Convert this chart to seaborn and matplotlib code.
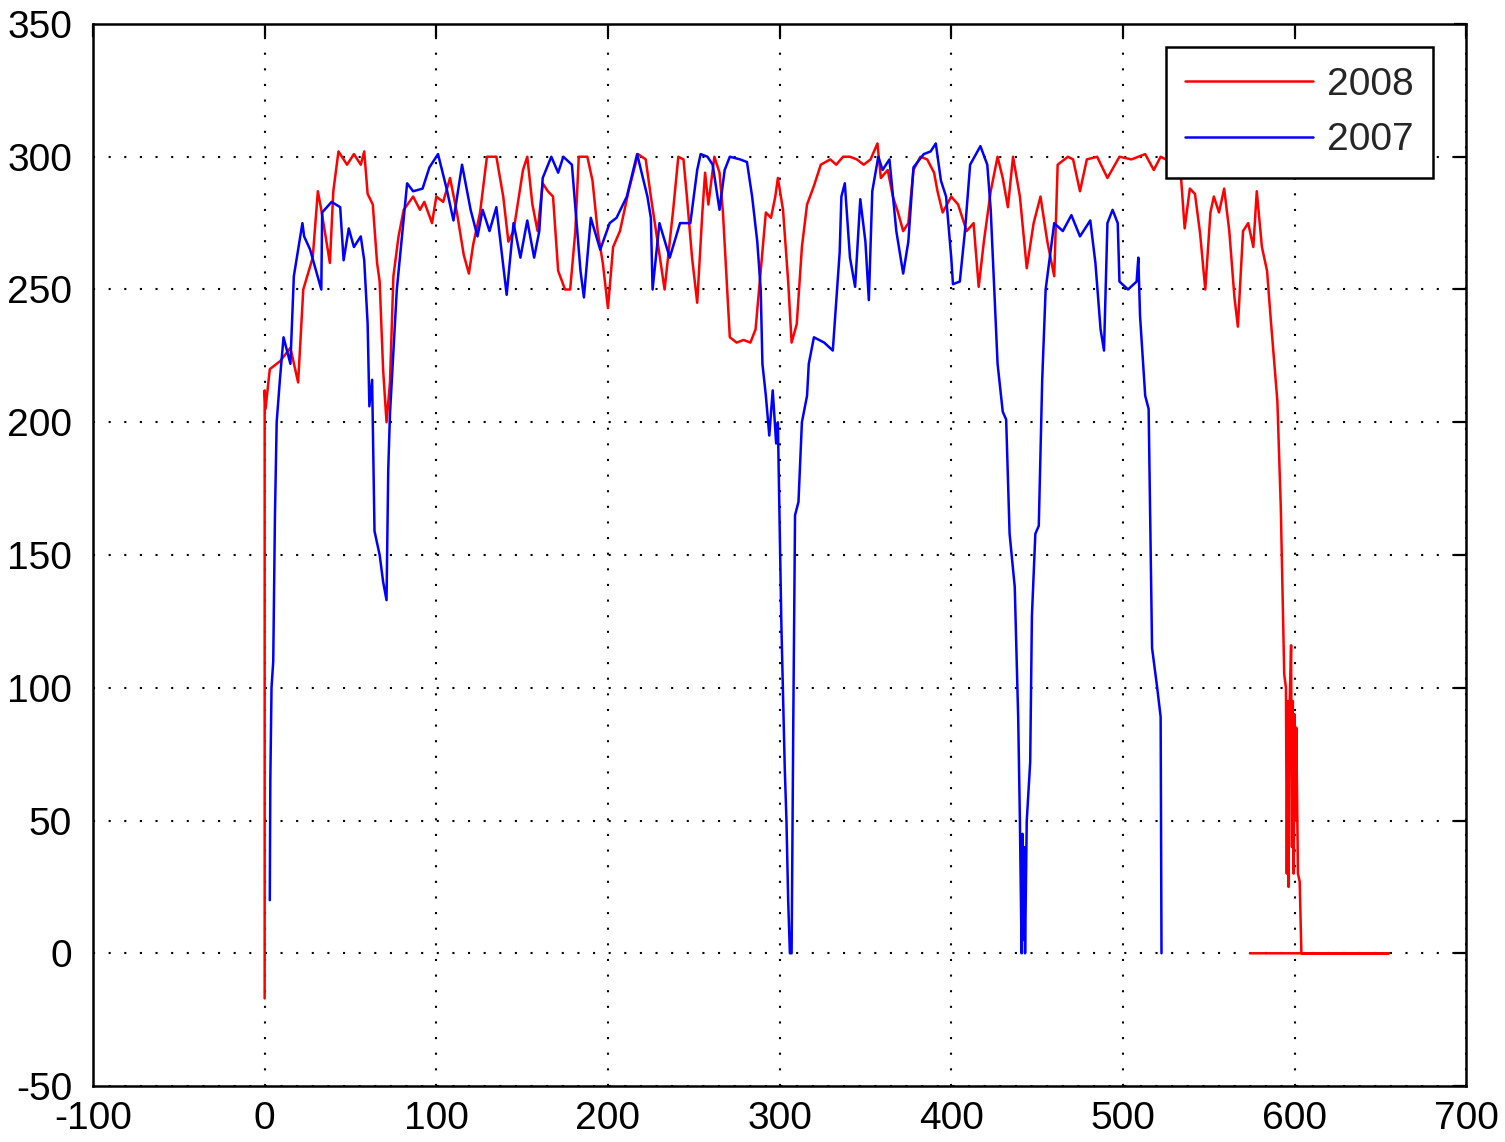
import matplotlib
matplotlib.use("Agg")
import matplotlib.pyplot as plt
import pandas as pd
import seaborn as sns
import numpy as np

# ------------------------------------------------------
# Data
# ------------------------------------------------------

x_2008 = [
    0, 0, 0.5, 3, 9, 15, 19.5, 22.5, 28, 31,
    33, 38, 40, 43, 48, 52, 56, 58, 60, 63,
    65.5, 67, 69, 71, 73, 75, 78, 81, 86.5, 90.5,
    93, 97.5, 100, 104, 108, 112, 116, 119, 121.5, 125.5,
    129.5, 135, 139, 142, 145, 150.5, 153, 156, 159, 162,
    165, 168, 171, 175, 178, 181, 183, 188, 191, 194,
    197, 200, 203, 207, 212, 217.5, 222, 225, 228, 233,
    238, 241, 244, 246, 249, 252, 255, 256.6, 258.5, 262,
    265, 267, 271, 275, 279, 283, 286, 289, 292, 295,
    297.5, 299, 302, 305, 307, 310, 313, 316, 320, 324,
    329.5, 333, 337, 341, 345, 349, 353, 357, 359, 363,
    366, 369, 372, 375, 378, 382, 386, 390, 392, 395,
    400, 404, 409, 413, 416, 419, 423, 427, 430, 433,
    436, 440, 444, 448, 452, 456, 460, 462, 468, 471,
    475, 479, 485, 491, 498, 505, 513, 518, 522, 528,
    533, 536, 539, 542, 545, 548, 551, 553, 556, 559,
    562, 565, 567, 570, 573, 576, 578, 581, 584, 586,
    588, 590, 592, 594, 595, 595.5, 596, 596.5, 597, 598,
    598.5, 599, 599.5, 600, 600.5, 601, 602, 603, 604, 655,
    574,
]
y_2008 = [
    -17, 212, 205, 220, 223, 228, 215, 250, 262, 287,
    280, 260, 287, 302, 297, 301, 297, 302, 286, 282,
    260, 253, 220, 200, 215, 255, 270, 280, 285, 280,
    283, 275, 285, 283, 292, 279, 263, 256, 267, 279,
    300, 300, 285, 268, 272, 295, 300, 282, 272, 290,
    287, 285, 257, 250, 250, 272, 300, 300, 291, 272,
    260, 243, 266, 272, 287, 301, 299, 285, 272, 250,
    280, 300, 299, 285, 262, 245, 279, 294, 282, 300,
    294, 279, 232, 230, 231, 230, 235, 257, 279, 277,
    285, 292, 280, 253, 230, 237, 266, 282, 289, 297,
    299, 297, 300, 300, 299, 297, 299, 305, 292, 295,
    285, 279, 272, 275, 295, 300, 299, 294, 287, 279,
    285, 282, 272, 275, 251, 268, 287, 300, 292, 281,
    300, 285, 258, 275, 285, 268, 255, 297, 300, 299,
    287, 299, 300, 292, 300, 299, 301, 295, 300, 298,
    300, 273, 288, 286, 271, 250, 279, 285, 279, 288,
    272, 247, 236, 272, 275, 266, 287, 266, 257, 240,
    224, 208, 168, 105, 100, 30, 95, 25, 90, 116,
    40, 95, 30, 90, 50, 85, 30, 27, 0, 0,
    0,
]

x_2007 = [
    3, 3.3, 4, 5, 6, 7, 9, 11, 15, 17,
    22, 23, 26.5, 33, 33.5, 39, 44, 46, 49, 52,
    56, 58, 60, 61, 62.6, 64, 67, 69, 71, 72,
    73, 77, 83, 86.5, 92, 96, 101, 106, 110, 115,
    120, 124, 127, 131, 135, 141, 145, 149, 153, 157,
    160, 162, 167, 171, 174, 179, 184, 186, 190, 195.5,
    201, 205, 211, 217, 223, 225, 226, 230, 236, 242,
    248, 252, 254, 258, 261, 265, 268, 271, 277, 281,
    284, 287, 289, 290, 292, 294, 296, 298, 299, 301,
    303, 304, 305, 306, 307, 308, 309, 311, 313, 316,
    317, 320, 326, 331, 335, 336, 338, 341, 344, 347,
    350, 352, 354, 357.5, 360, 364, 368, 372, 375, 378,
    384, 388, 391, 394, 397, 400, 401, 405, 408, 411,
    417, 421, 423, 425, 427, 430, 432, 434, 437, 439,
    440, 441, 441.5, 442, 442.5, 443, 444, 446, 447, 449,
    451, 453, 455, 458, 460, 465, 470, 475, 481, 484,
    487, 489, 491, 494, 497, 498, 503, 508, 509, 510,
    513, 515, 517, 520, 522, 522.5,
]
y_2007 = [
    20, 65, 100, 110, 165, 200, 217, 232, 222, 255,
    275, 270, 265, 250, 279, 283, 281, 261, 273, 266,
    270, 261, 237, 206, 216, 159, 150, 140, 133, 182,
    203, 250, 290, 287, 288, 296, 301, 288, 276, 297,
    280, 270, 280, 272, 281, 248, 275, 262, 276, 262,
    272, 292, 300, 294, 300, 297, 257, 247, 277, 265,
    275, 277, 285, 301, 285, 277, 250, 275, 262, 275,
    275, 295, 301, 300, 297, 280, 295, 300, 299, 298,
    285, 268, 250, 222, 210, 195, 212, 192, 200, 125,
    70, 50, 20, 0, 0, 89, 165, 170, 200, 210,
    222, 232, 230, 227, 264, 285, 290, 262, 251, 284,
    268, 246, 287, 300, 295, 299, 272, 256, 268, 296,
    301, 302, 305, 291, 285, 262, 252, 253, 272, 297,
    304, 297, 280, 251, 222, 204, 201, 158, 138, 89,
    50, 0, 45, 5, 40, 0, 50, 72, 127, 158,
    161, 216, 250, 265, 275, 272, 278, 270, 276, 260,
    235, 227, 275, 280, 275, 253, 250, 253, 262, 240,
    210, 205, 115, 100, 89, 0,
]

years = ["2008", "2007"]
colors = {"2008": "#ff0000", "2007": "#0000ff"}

x_ticks = [-100, 0, 100, 200, 300, 400, 500, 600, 700]
y_ticks = [-50, 0, 50, 100, 150, 200, 250, 300, 350]

assert len(x_2008) == len(y_2008)
assert len(x_2007) == len(y_2007)

df = pd.concat(
    [
        pd.DataFrame({"x": x_2008, "y": y_2008, "year": "2008"}),
        pd.DataFrame({"x": x_2007, "y": y_2007, "year": "2007"}),
    ],
    ignore_index=True,
)

# ------------------------------------------------------
# Plot
# ------------------------------------------------------

sns.set_style("white")
plt.rcParams["font.family"] = ["Liberation Sans", "DejaVu Sans"]
plt.rcParams["axes.unicode_minus"] = False

fig = plt.figure(figsize=(15.05, 11.42), dpi=100)
ax = fig.add_axes([0.0618, 0.049, 0.9124, 0.930])

sns.lineplot(
    data=df,
    x="x",
    y="y",
    hue="year",
    hue_order=years,
    palette=colors,
    sort=False,
    estimator=None,
    linewidth=1.8,
    ax=ax,
)

ax.set_xlim(-100, 700)
ax.set_ylim(-50, 350)
ax.set_xticks(x_ticks)
ax.set_yticks(y_ticks)
ax.set_xlabel("")
ax.set_ylabel("")

ax.set_axisbelow(True)
ax.grid(True, color="black", linestyle=(0, (1, 6.5)), linewidth=1.5)

for sp in ax.spines.values():
    sp.set_color("black")
    sp.set_linewidth(1.8)

ax.tick_params(axis="both", direction="in", top=True, right=True,
               length=9, width=1.6, labelsize=28, colors="black")
ax.tick_params(axis="x", pad=11)
ax.tick_params(axis="y", pad=15)

handles, labels = ax.get_legend_handles_labels()
leg = ax.legend(
    handles,
    labels,
    loc="upper right",
    bbox_to_anchor=(0.976, 0.978),
    borderaxespad=0,
    fontsize=28,
    frameon=True,
    fancybox=False,
    framealpha=1,
    edgecolor="black",
    handlelength=3.3,
    handletextpad=0.35,
    labelspacing=0.5,
    borderpad=0.5,
)
leg.get_frame().set_linewidth(1.8)
for line in leg.get_lines():
    line.set_linewidth(1.8)

fig.savefig("out.png", dpi=100, facecolor="white")
